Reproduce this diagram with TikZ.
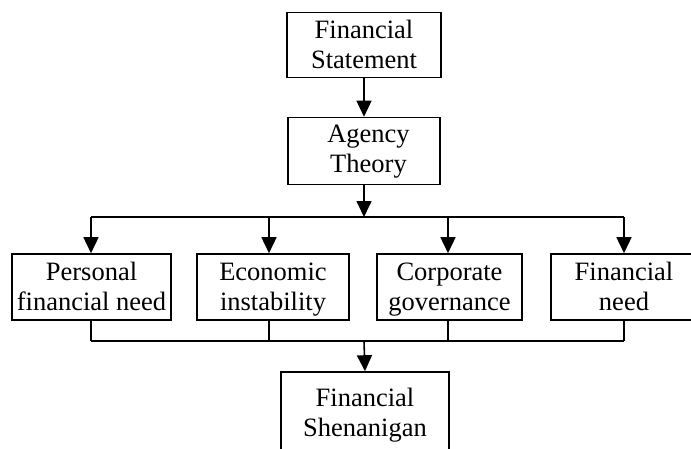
\documentclass[tikz,border=0pt]{standalone}
\usepackage{fontspec}
\setmainfont{Liberation Serif}
\usetikzlibrary{arrows.meta}
% fixed-height line strut so every box centres its two lines alike
\newcommand\linestrut{\rule[-7pt]{0pt}{30pt}}
\begin{document}
\begin{tikzpicture}[x=1pt,y=-1pt,
  box/.style={draw,line width=1.6pt,align=center,inner sep=0pt,
    font=\fontsize{26.5}{30}\selectfont},
  link/.style={line width=1.6pt},
  arr/.style={line width=1.6pt,-{Triangle[length=16pt,width=15pt]}}]
\useasboundingbox (0,0) rectangle (691,448);
\clip (0,0) rectangle (691,448);

% top chain
\node[box,minimum width=154pt,minimum height=65pt] (fs) at (364,45) {\linestrut Financial\\\linestrut Statement};
\node[box,minimum width=152pt,minimum height=67pt] (at) at (364,151) {\strut\hspace*{9pt}Agency\\\strut\hspace*{9pt}Theory};

% middle row
\node[box,minimum width=159pt,minimum height=66pt] (pfn) at (91.5,287) {\linestrut Personal\\\linestrut financial need};
\node[box,minimum width=152pt,minimum height=66pt] (ei) at (273,287) {\linestrut Economic\\\linestrut instability};
\node[box,minimum width=145pt,minimum height=66pt] (cg) at (449.5,287) {\linestrut Corporate\\\linestrut governance};
\node[box,minimum width=146pt,minimum height=66pt] (fn) at (624,287) {\linestrut Financial\\\linestrut need};

% result
\node[box,minimum width=168pt,minimum height=86pt] (sh) at (365,415) {\strut Financial\\\strut Shenanigan};

% split bar
\coordinate (split) at (364,217);
\coordinate (t1) at (91,217);
\coordinate (t2) at (269,217);
\coordinate (t3) at (448,217);
\coordinate (t4) at (624,217);

% merge bar
\coordinate (merge) at (364,341);
\coordinate (b1) at (91,341);
\coordinate (b2) at (269,341);
\coordinate (b3) at (448,341);
\coordinate (b4) at (624,341);

\draw[arr] (fs.south) -- (at.north);
\draw[arr] (at.south) -- (split);
\draw[link] (t1) -- (t4);
\draw[arr] (t1) -- (t1 |- pfn.north);
\draw[arr] (t2) -- (t2 |- ei.north);
\draw[arr] (t3) -- (t3 |- cg.north);
\draw[arr] (t4) -- (t4 |- fn.north);

\draw[link] (b1 |- pfn.south) -- (b1);
\draw[link] (b2 |- ei.south) -- (b2);
\draw[link] (b3 |- cg.south) -- (b3);
\draw[link] (b4 |- fn.south) -- (b4);
\draw[link] (b1) -- (b4);
\draw[arr] (merge) -- (sh.north);
\end{tikzpicture}
\end{document}
